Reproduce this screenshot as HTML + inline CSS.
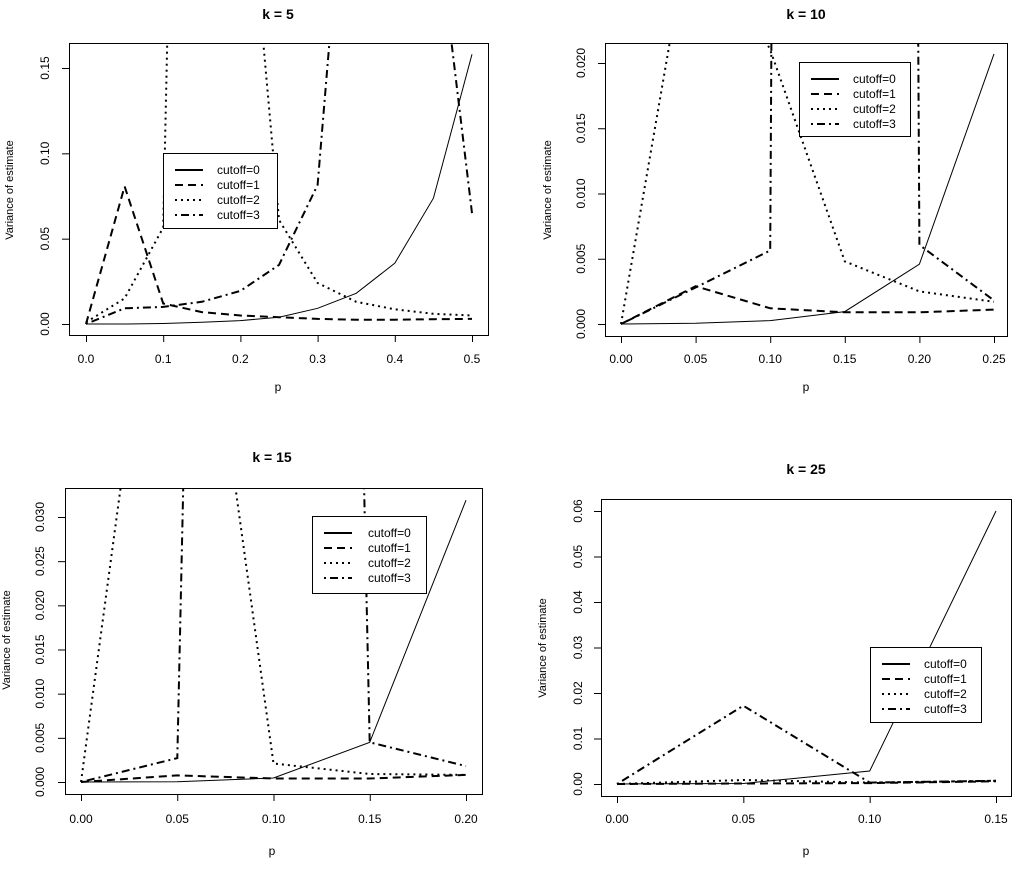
<!DOCTYPE html>
<html><head><meta charset="utf-8">
<style>
html,body{margin:0;padding:0;background:#fff;}
svg{display:block;font-family:"Liberation Sans",Arial,sans-serif;}
</style></head>
<body>
<svg id="chart" width="1026" height="869" viewBox="0 0 1026 869"></svg>
<script>
// ---- data ----
const seriesNames = ["cutoff=0","cutoff=1","cutoff=2","cutoff=3"];
const p5 = [0,0.05,0.1,0.15,0.2,0.25,0.3,0.35,0.4,0.45,0.5];
const k5c0 = [0,0,0.0003,0.001,0.002,0.004,0.0092,0.018,0.0356,0.0737,0.158];
const k5c1 = [0,0.0806,0.012,0.007,0.005,0.004,0.003,0.0025,0.0025,0.0028,0.003];
const k5c2 = [0.001,0.015,0.0565,1.1,0.316,0.061,0.024,0.013,0.0086,0.006,0.005];
const k5c3 = [0,0.0092,0.010,0.013,0.0194,0.0346,0.0815,0.354,0.5,0.253,0.065];
const p10 = [0,0.05,0.1,0.15,0.2,0.25];
const k10c0 = [0,0.00005,0.00026,0.00095,0.00458,0.0207];
const k10c1 = [0,0.0029,0.0012,0.0009,0.0009,0.0011];
const k10c2 = [0,0.033,0.021,0.0048,0.0025,0.0017];
const k10c3 = [0,0.0028,0.00563,1.0,0.00606,0.0018];
const p15 = [0,0.05,0.1,0.15,0.2];
const k15c0 = [0,0.00003,0.00045,0.00448,0.0319];
const k15c1 = [0,0.00075,0.0004,0.0004,0.0008];
const k15c2 = [0,0.081,0.0021,0.0009,0.0008];
const k15c3 = [0,0.0027,0.5,0.0045,0.0018];
const p25 = [0,0.05,0.1,0.15];
const k25c0 = [0,0.0001,0.00285,0.06];
const k25c1 = [0,0.0001,0.0002,0.0006];
const k25c2 = [0,0.00088,0.0003,0.0007];
const k25c3 = [0,0.0172,0.0003,0.0007];
const xt5 = ["0.0","0.1","0.2","0.3","0.4","0.5"], xv5=[0,0.1,0.2,0.3,0.4,0.5];
const yt5 = ["0.00","0.05","0.10","0.15"], yv5=[0,0.05,0.1,0.15];
const xt10 = ["0.00","0.05","0.10","0.15","0.20","0.25"], xv10=[0,0.05,0.1,0.15,0.2,0.25];
const yt10 = ["0.000","0.005","0.010","0.015","0.020"], yv10=[0,0.005,0.01,0.015,0.02];
const xt15 = ["0.00","0.05","0.10","0.15","0.20"], xv15=[0,0.05,0.1,0.15,0.2];
const yt15 = ["0.000","0.005","0.010","0.015","0.020","0.025","0.030"], yv15=[0,0.005,0.01,0.015,0.02,0.025,0.03];
const xt25 = ["0.00","0.05","0.10","0.15"], xv25=[0,0.05,0.1,0.15];
const yt25 = ["0.00","0.01","0.02","0.03","0.04","0.05","0.06"], yv25=[0,0.01,0.02,0.03,0.04,0.05,0.06];

const styles=[{w:1,d:"",lw:2},{w:2,d:"8,5",lw:2},{w:2,d:"2,4",lw:2},{w:2,d:"2,4,8,4",lw:2}];

const panels=[
 {id:"k5",title:"k = 5",tx:278,ty:19,box:[69,43,488,335],x0:86,x1:472,xa:0,xb:0.5,y0:324,y1:68,ya:0,yb:0.15,
  p:p5,s:[k5c0,k5c1,k5c2,k5c3],xt:xt5,xv:xv5,yt:yt5,yv:yv5,ylx:45,xly:363,plx:278,ply:391,ytx:10,yty:190,leg:[163,153,277,228],ltx:54},
 {id:"k10",title:"k = 10",tx:806,ty:19,box:[605,43,1007,336],x0:621,x1:994,xa:0,xb:0.25,y0:324,y1:63,ya:0,yb:0.02,
  p:p10,s:[k10c0,k10c1,k10c2,k10c3],xt:xt10,xv:xv10,yt:yt10,yv:yv10,ylx:581,xly:363,plx:806,ply:391,ytx:548,yty:190,leg:[799,62,910,136],ltx:54},
 {id:"k15",title:"k = 15",tx:272,ty:462,box:[65,488,482,794],x0:81,x1:466,xa:0,xb:0.2,y0:782,y1:517,ya:0,yb:0.03,
  p:p15,s:[k15c0,k15c1,k15c2,k15c3],xt:xt15,xv:xv15,yt:yt15,yv:yv15,ylx:40,xly:823,plx:272,ply:855,ytx:7,yty:640,leg:[312,516,426,593],ltx:56},
 {id:"k25",title:"k = 25",tx:806,ty:474,box:[601,499,1011,796],x0:617,x1:996,xa:0,xb:0.15,y0:784,y1:511,ya:0,yb:0.06,
  p:p25,s:[k25c0,k25c1,k25c2,k25c3],xt:xt25,xv:xv25,yt:yt25,yv:yv25,ylx:578,xly:823,plx:806,ply:855,ytx:543,yty:648,leg:[870,647,981,722],ltx:54}
];

const svg=document.getElementById('chart');
const NS="http://www.w3.org/2000/svg";
function mk(tag,attrs,parent){const e=document.createElementNS(NS,tag);for(const k in attrs)e.setAttribute(k,attrs[k]);(parent||svg).appendChild(e);return e;}

const defs=mk('defs',{});
panels.forEach(P=>{
  const xs=v=>P.x0+(v-P.xa)/(P.xb-P.xa)*(P.x1-P.x0);
  const ys=v=>P.y0+(v-P.ya)/(P.yb-P.ya)*(P.y1-P.y0);
  const g=mk('g',{});
  
  
  const [bx0,by0,bx1,by1]=P.box;
  const cp=mk('clipPath',{id:'clip-'+P.id},defs);
  mk('rect',{x:bx0,y:by0,width:bx1-bx0,height:by1-by0},cp);
  const t=mk('text',{x:P.tx,y:P.ty,'text-anchor':'middle','font-size':'14','font-weight':'bold'},g);
  t.textContent=P.title;
  
  
  const sg=mk('g',{'clip-path':'url(#clip-'+P.id+')'},g);
  P.s.forEach((vals,i)=>{
    const pts=vals.map((v,j)=>xs(P.p[j]).toFixed(1)+','+ys(v).toFixed(1)).join(' ');
    const pl=mk('polyline',{points:pts,fill:'none',stroke:'#000','stroke-width':styles[i].w,'stroke-dasharray':styles[i].d},sg);
    
    
  });
  const box=mk('rect',{x:bx0+0.5,y:by0+0.5,width:bx1-bx0,height:by1-by0,fill:'none',stroke:'#000','stroke-width':1},g);
  
  
  const xa=mk('g',{},g);
  
  
  P.xv.forEach((v,i)=>{
    mk('line',{x1:xs(v)+0.5,x2:xs(v)+0.5,y1:by1,y2:by1+7,stroke:'#000'},xa);
    const tl=mk('text',{x:xs(v),y:P.xly,'text-anchor':'middle','font-size':'12'},xa);
    tl.textContent=P.xt[i];
    
    
  });
  const ya=mk('g',{},g);
  
  
  P.yv.forEach((v,i)=>{
    mk('line',{x1:bx0-7,x2:bx0,y1:ys(v)+0.5,y2:ys(v)+0.5,stroke:'#000'},ya);
    const yy=ys(v);
    const tl=mk('text',{x:P.ylx,y:yy,'text-anchor':'middle','dominant-baseline':'central','font-size':'12',transform:'rotate(-90 '+P.ylx+' '+yy+')'},ya);
    tl.textContent=P.yt[i];
    
    
  });
  const xl=mk('text',{x:P.plx,y:P.ply,'text-anchor':'middle','font-size':'12'},g);
  xl.textContent='p';
  
  
  const yl=mk('text',{x:P.ytx,y:P.yty,'text-anchor':'middle','dominant-baseline':'central','font-size':'11',transform:'rotate(-90 '+P.ytx+' '+P.yty+')'},g);
  yl.textContent='Variance of estimate';
  
  
  const [lx0,ly0,lx1,ly1]=P.leg;
  const lg=mk('g',{},g);
  
  
  mk('rect',{x:lx0+0.5,y:ly0+0.5,width:lx1-lx0,height:ly1-ly0,fill:'#fff',stroke:'#000'},lg);
  seriesNames.forEach((n,i)=>{
    const yy=ly0+17+i*15;
    const e=mk('g',{},lg);
    
    
    mk('line',{x1:lx0+12,x2:lx0+40,y1:yy,y2:yy,stroke:'#000','stroke-width':styles[i].lw,'stroke-dasharray':styles[i].d},e);
    const tx=mk('text',{x:lx0+P.ltx,y:yy,'dominant-baseline':'central','font-size':'12'},e);
    tx.textContent=n;
  });
});
</script>
</body></html>
